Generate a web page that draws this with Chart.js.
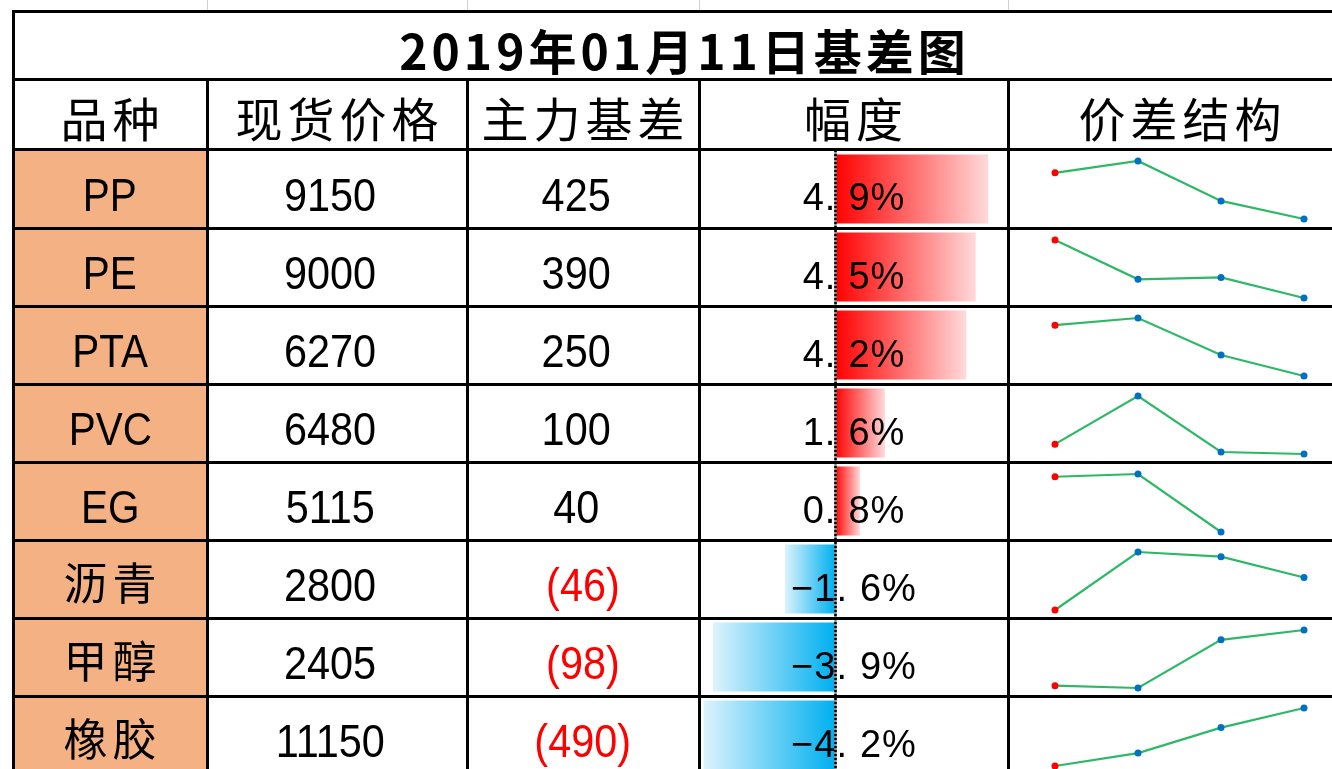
<!DOCTYPE html>
<html><head><meta charset="utf-8">
<script src="https://cdn.jsdelivr.net/npm/chart.js@4.4.1/dist/chart.umd.min.js"></script>
<style>
html,body{margin:0;padding:0;background:#fff;width:1332px;height:769px;overflow:hidden;}
#root{position:relative;width:1332px;height:769px;overflow:hidden;background:#fff;}
.line{position:absolute;background:#000;z-index:5;}
.txt{position:absolute;display:flex;align-items:center;justify-content:center;white-space:nowrap;z-index:6;color:#000;}
canvas{position:absolute;}
</style></head><body><div id="root"></div>
<script>
// ---------- data ----------
const title = '2019年01月11日基差图';
const headers = ['品种', '现货价格', '主力基差', '幅度', '价差结构'];
const categories = ['PP', 'PE', 'PTA', 'PVC', 'EG', '沥青', '甲醇', '橡胶'];
const spotPrice = [9150, 9000, 6270, 6480, 5115, 2800, 2405, 11150];
const mainBasis = [425, 390, 250, 100, 40, -46, -98, -490];
const basisPct = [4.9, 4.5, 4.2, 1.6, 0.8, -1.6, -3.9, -4.2];
const contracts = ['现货', '1901', '1905', '1909'];
const spreadPP  = [9150, 9330, 8725, 8450];
const spreadPE  = [9000, 8590, 8610, 8395];
const spreadPTA = [6270, 6330, 6020, 5845];
const spreadPVC = [6480, 7090, 6380, 6355];
const spreadEG  = [5115, 5117, 5075, null];
const spreadBitumen  = [2800, 2850, 2846, 2828];
const spreadMethanol = [2405, 2400, 2503, 2524];
const spreadRubber   = [11150, 11315, 11640, 11890];
const spreads = [spreadPP, spreadPE, spreadPTA, spreadPVC, spreadEG, spreadBitumen, spreadMethanol, spreadRubber];

// ---------- layout ----------
const root = document.getElementById('root');
const colX = [13, 207, 467, 699, 1008, 1352];
const rowY = [149, 228, 306, 384, 462, 540, 618, 696, 774];
const titleY = [11, 79], headY = [79, 149];
const LAT = '"Liberation Sans", Arial, sans-serif';
const CJK = '"Noto Sans CJK SC", sans-serif';

function el(tag, cls, style, html) {
  const e = document.createElement(tag);
  if (cls) e.className = cls;
  Object.assign(e.style, style);
  if (html !== undefined) e.innerHTML = html;
  root.appendChild(e);
  return e;
}
function cell(x0, x1, y0, y1, html, font, dy, extra) {
  const inner = '<span style="position:relative;top:' + dy + 'px;' + (extra || '') + '">' + html + '</span>';
  return el('div', 'txt', {left: x0 + 'px', width: (x1 - x0) + 'px', top: y0 + 'px', height: (y1 - y0) + 'px', font: font}, inner);
}

// category fill
el('div', '', {position: 'absolute', left: colX[0] + 'px', width: (colX[1] - colX[0]) + 'px', top: rowY[0] + 'px', height: (rowY[8] - rowY[0]) + 'px', background: '#F4B183'});

// faint sheet gridline stubs above the table
[207, 467, 699, 1008].forEach(x => el('div', '', {position: 'absolute', left: x + 'px', top: '0px', width: '1px', height: '10px', background: '#D0D0D0'}));

// borders
const T = 3;
[titleY[0], titleY[1], headY[1]].concat(rowY.slice(1, 8)).forEach(y =>
  el('div', 'line', {left: (colX[0] - 1) + 'px', top: (y - 1) + 'px', width: (1340 - colX[0]) + 'px', height: T + 'px'}));
el('div', 'line', {left: (colX[0] - 1) + 'px', top: (titleY[0] - 1) + 'px', width: T + 'px', height: '780px'});
colX.slice(1, 5).forEach(x =>
  el('div', 'line', {left: (x - 1) + 'px', top: (titleY[1] - 1) + 'px', width: T + 'px', height: '780px'}));

// title & headers
cell(colX[0], colX[5], titleY[0], titleY[1], title, 'bold 48px ' + CJK, 4, 'letter-spacing:4px;padding-left:4px');
headers.forEach((h, i) => cell(colX[i], colX[i + 1], headY[0], headY[1], h, '400 47px ' + CJK, 2, 'letter-spacing:5px;padding-left:5px'));

// body text
const hid = '<span style="visibility:hidden">)</span>';
function fmt(v) {
  return v < 0 ? '<span style="color:#FF0000">(' + Math.abs(v) + ')</span>' : v + hid;
}
function fmtPct(v) {
  const s = v.toFixed(1).replace('-', '−');
  const k = s.indexOf('.');
  return s.slice(0, k) + '<span style="margin-right:12px">.</span>' + s.slice(k + 1) + '%';
}
categories.forEach((c, i) => {
  const y0 = rowY[i], y1 = rowY[i + 1];
  if (/^[A-Za-z]+$/.test(c)) {
    cell(colX[0], colX[1], y0, y1, c, '46px ' + LAT, 6, 'display:inline-block;transform:scaleX(0.88)');
  } else {
    cell(colX[0], colX[1], y0, y1, c, '44px ' + CJK, 2, 'letter-spacing:5px;padding-left:5px');
  }
  cell(colX[1], colX[2], y0, y1, fmt(spotPrice[i]), '46px ' + LAT, 6, 'display:inline-block;transform:scaleX(0.9)');
  cell(colX[2], colX[3], y0, y1, fmt(mainBasis[i]), '46px ' + LAT, 6, 'display:inline-block;transform:scaleX(0.9)');
  cell(colX[3], colX[4], y0, y1, fmtPct(basisPct[i]), '38px ' + LAT, 9, 'letter-spacing:1px;padding-left:1px');
});

// ---------- data bars (幅度) ----------
const barCv = document.createElement('canvas');
barCv.width = 306; barCv.height = 624;
Object.assign(barCv.style, {left: '701px', top: '150px', zIndex: 2});
root.appendChild(barCv);

function barGradient(ctx) {
  const chart = ctx.chart;
  if (!chart.chartArea || ctx.raw === undefined) return '#FF0000';
  const xs = chart.scales.x;
  const x0 = xs.getPixelForValue(0), x1 = xs.getPixelForValue(ctx.raw);
  const g = chart.ctx.createLinearGradient(x0, 0, x1, 0);
  if (ctx.raw >= 0) { g.addColorStop(0, '#FF0000'); g.addColorStop(1, '#FFDADA'); }
  else { g.addColorStop(0, '#00B0F0'); g.addColorStop(1, '#DDF3FC'); }
  return g;
}
const zeroAxis = {
  id: 'zeroAxis',
  afterDatasetsDraw(chart) {
    const c = chart.ctx, x = Math.round(chart.scales.x.getPixelForValue(0)) + 0.5;
    c.save();
    c.lineWidth = 2.5;
    c.strokeStyle = '#8A8A8A';
    c.beginPath(); c.moveTo(x, 0); c.lineTo(x, chart.height); c.stroke();
    c.strokeStyle = '#000';
    c.setLineDash([2, 2]);
    c.beginPath(); c.moveTo(x, 0); c.lineTo(x, chart.height); c.stroke();
    c.restore();
  }
};
new Chart(barCv, {
  type: 'bar',
  data: {labels: categories, datasets: [{data: basisPct, backgroundColor: barGradient, borderWidth: 0, barPercentage: 0.885, categoryPercentage: 1}]},
  options: {
    indexAxis: 'y', responsive: false, animation: false, devicePixelRatio: 1,
    layout: {padding: 0},
    plugins: {legend: {display: false}, tooltip: {enabled: false}},
    scales: {x: {display: false, min: -4.28, max: 5.5}, y: {display: false}}
  },
  plugins: [zeroAxis]
});

// ---------- sparklines (价差结构) ----------
spreads.forEach((vals, i) => {
  const cv = document.createElement('canvas');
  cv.width = 322; cv.height = 74;
  Object.assign(cv.style, {left: '1010px', top: (rowY[i] + 2) + 'px', zIndex: 3});
  root.appendChild(cv);
  const nums = vals.filter(v => v !== null);
  new Chart(cv, {
    type: 'line',
    data: {labels: contracts, datasets: [{
      data: vals, borderColor: '#2DB866', borderWidth: 2.2, tension: 0, spanGaps: false, clip: false,
      pointRadius: 3.5, pointBorderWidth: 0,
      pointBackgroundColor: vals.map((v, k) => k === 0 ? '#FF0000' : '#0070C0')
    }]},
    options: {
      responsive: false, animation: false, devicePixelRatio: 1,
      layout: {padding: {left: 45, right: 28, top: 10, bottom: 6}},
      plugins: {legend: {display: false}, tooltip: {enabled: false}},
      scales: {
        x: {display: false, offset: false},
        y: {display: false, min: Math.min(...nums), max: Math.max(...nums)}
      }
    }
  });
});
</script></body></html>
